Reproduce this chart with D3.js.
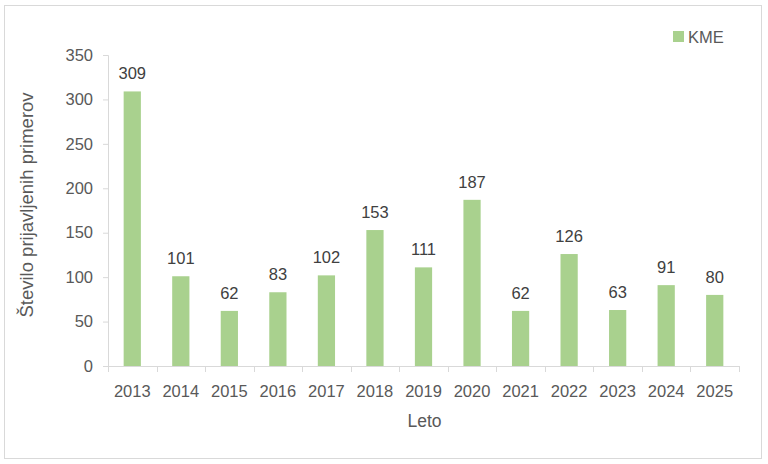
<!DOCTYPE html>
<html><head><meta charset="utf-8">
<script src="https://cdn.jsdelivr.net/npm/d3@7"></script>
<style>body{margin:0;background:#fff}svg{display:block}</style>
</head><body>
<script>
const years = ["2013","2014","2015","2016","2017","2018","2019","2020","2021","2022","2023","2024","2025"];
const values = [309,101,62,83,102,153,111,187,62,126,63,91,80];
const yTicks = [0,50,100,150,200,250,300,350];
const seriesName = "KME";
const xTitle = "Leto";
const yTitle = "Število prijavljenih primerov";

const W=768,H=464;
const font="'Liberation Sans', Arial, sans-serif";
const textColor="#595959", axisColor="#D9D9D9", barColor="#A9D18E";
const svg=d3.select("body").append("svg").attr("width",W).attr("height",H);
svg.append("rect").attr("x",4.5).attr("y",5.5).attr("width",757).attr("height",453)
  .attr("fill","#fff").attr("stroke","#D9D9D9").attr("stroke-width",1);

const m={l:108,r:739,t:55,b:366};
const x=d3.scaleBand().domain(years).range([m.l,m.r]).paddingInner(0.645).paddingOuter(0.3225);
const y=d3.scaleLinear().domain([0,350]).range([m.b,m.t]);

// bars
svg.append("g").selectAll("rect").data(values).join("rect")
  .attr("x",(d,i)=>x(years[i])).attr("width",x.bandwidth())
  .attr("y",d=>y(d)).attr("height",d=>y(0)-y(d)).attr("fill",barColor);

// y axis
const ya=svg.append("g").attr("transform",`translate(${m.l},0)`)
  .call(d3.axisLeft(y).tickValues(yTicks).tickSize(5).tickPadding(10));
ya.select(".domain").attr("stroke",axisColor).attr("d",`M-5,${y(350)+0.5}H0.5V${y(0)}`);
ya.selectAll(".tick line").attr("stroke",axisColor);
ya.selectAll("text").attr("fill",textColor).style("font-family",font).style("font-size","16.5px");

// x axis
const step=x.step();
const xa=svg.append("g").attr("transform",`translate(0,${m.b})`);
xa.append("line").attr("x1",m.l).attr("x2",m.r).attr("y1",0.5).attr("y2",0.5).attr("stroke",axisColor);
const bounds=d3.range(years.length+1).map(i=>m.l+i*step);
xa.selectAll(".bt").data(bounds).join("line").attr("class","bt")
  .attr("x1",d=>Math.round(d)+0.5).attr("x2",d=>Math.round(d)+0.5).attr("y1",0).attr("y2",6).attr("stroke",axisColor);
xa.selectAll(".xl").data(years).join("text").attr("class","xl")
  .attr("x",d=>x(d)+x.bandwidth()/2).attr("y",31).attr("text-anchor","middle")
  .attr("fill",textColor).style("font-family",font).style("font-size","16.5px").text(d=>d);

// value labels
svg.append("g").selectAll("text").data(values).join("text")
  .attr("x",(d,i)=>x(years[i])+x.bandwidth()/2).attr("y",d=>y(d)-12)
  .attr("text-anchor","middle").attr("fill","#404040")
  .style("font-family",font).style("font-size","16.5px").text(d=>d);

// titles
svg.append("text").attr("x",(m.l+m.r)/2+1).attr("y",427).attr("text-anchor","middle")
  .attr("fill",textColor).style("font-family",font).style("font-size","17.5px").text(xTitle);
svg.append("text").attr("transform",`translate(33,205) rotate(-90)`).attr("text-anchor","middle")
  .attr("fill",textColor).style("font-family",font).style("font-size","18.5px").text(yTitle);

// legend
svg.append("rect").attr("x",673).attr("y",31).attr("width",11).attr("height",11).attr("fill",barColor);
svg.append("text").attr("x",688).attr("y",43).attr("fill",textColor)
  .style("font-family",font).style("font-size","16.5px").text(seriesName);
</script>
</body></html>
